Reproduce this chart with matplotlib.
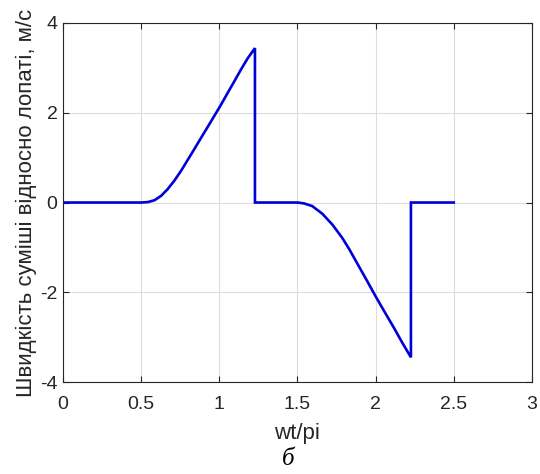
import matplotlib
matplotlib.use('Agg')
import matplotlib.pyplot as plt

plt.rcParams['font.family'] = ['Liberation Sans', 'DejaVu Sans']
plt.rcParams['axes.unicode_minus'] = False

# values (wt/pi, m/s)
wt_rise = [0.0, 0.5, 0.543, 0.585, 0.628, 0.670, 0.713, 0.756, 0.798, 0.840,
           0.883, 0.925, 0.968, 1.011, 1.053, 1.096, 1.138, 1.181, 1.228, 1.228]
v_rise = [0.0, 0.0, 0.01, 0.05, 0.15, 0.30, 0.49, 0.71, 0.95, 1.19,
          1.44, 1.68, 1.93, 2.18, 2.44, 2.70, 2.96, 3.21, 3.44, 0.0]
wt_fall = [1.5, 1.542, 1.595, 1.659, 1.723, 1.787, 1.833, 1.883, 1.946, 2.0,
           2.053, 2.117, 2.170, 2.226, 2.226, 2.5]
v_fall = [0.0, -0.02, -0.08, -0.25, -0.49, -0.79, -1.05, -1.36, -1.75, -2.09,
          -2.41, -2.79, -3.12, -3.45, 0.0, 0.0]

wt = wt_rise + wt_fall
v = v_rise + v_fall

xticks = [0, 0.5, 1, 1.5, 2, 2.5, 3]
xticklabels = ['0', '0.5', '1', '1.5', '2', '2.5', '3']
yticks = [-4, -2, 0, 2, 4]

fig = plt.figure(figsize=(5.4, 4.74), dpi=100)
ax = fig.add_axes([0.1167, 0.194, 0.8683, 0.7575])

ax.plot(wt, v, color='#0000d8', linewidth=1.9, solid_joinstyle='miter')

ax.set_xlim(0, 3)
ax.set_ylim(-4, 4)
ax.set_xticks(xticks)
ax.set_xticklabels(xticklabels)
ax.set_yticks(yticks)
ax.grid(True, color='#dcdcdc', linewidth=0.8)
ax.set_axisbelow(True)

for s in ax.spines.values():
    s.set_color('#262626')
    s.set_linewidth(0.8)
ax.tick_params(direction='in', top=True, right=True, length=4, width=0.8,
               colors='#262626', labelsize=14, labelcolor='#262626')
ax.tick_params(axis='x', pad=10)
ax.tick_params(axis='y', pad=4)

ax.set_xlabel('wt/pi', fontsize=16, color='#262626', labelpad=7)
ax.set_ylabel('Швидкість суміші відносно лопаті, м/с', fontsize=16,
              color='#262626', labelpad=2)

fig.text(0.533, 0.008, 'б', fontsize=18, family='Liberation Serif',
         style='italic', ha='center', va='bottom')

fig.savefig('out.png', dpi=100)
